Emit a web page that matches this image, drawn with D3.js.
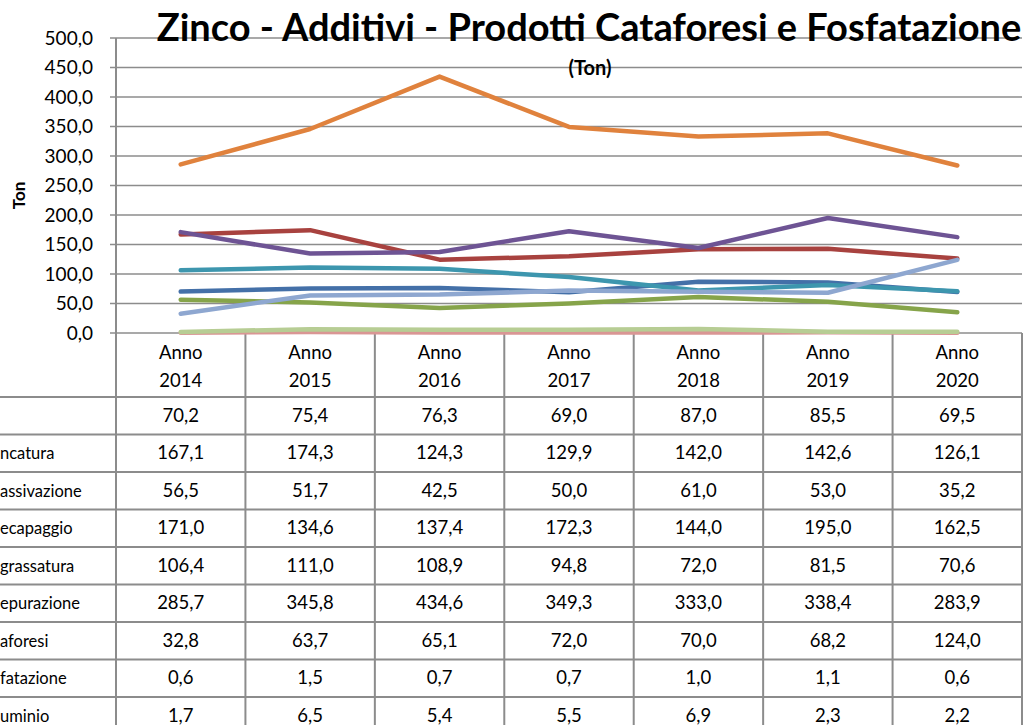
<!DOCTYPE html>
<html>
<head>
<meta charset="utf-8">
<script src="https://cdn.jsdelivr.net/npm/d3@7"></script>
<style>
  html, body { margin: 0; padding: 0; background: #fff; }
  svg { display: block; }
  text { font-family: Lato, "Open Sans", sans-serif; fill: #000; }
</style>
</head>
<body>
<svg id="chart" width="1033" height="725"></svg>
<script>
// ---- data ----
const years = ["2014", "2015", "2016", "2017", "2018", "2019", "2020"];
const categoryPrefix = "Anno";
const seriesNames = ["", "ncatura", "assivazione", "ecapaggio", "grassatura", "epurazione", "aforesi", "fatazione", "uminio"];
const seriesColors = ["#4470A8", "#A8423F", "#86A44A", "#6E5494", "#3D96AE", "#E0823D", "#8EA7D0", "#D99694", "#B7CD94"];
const s0 = [70.2, 75.4, 76.3, 69.0, 87.0, 85.5, 69.5];
const sZincatura = [167.1, 174.3, 124.3, 129.9, 142.0, 142.6, 126.1];
const sPassivazione = [56.5, 51.7, 42.5, 50.0, 61.0, 53.0, 35.2];
const sDecapaggio = [171.0, 134.6, 137.4, 172.3, 144.0, 195.0, 162.5];
const sSgrassatura = [106.4, 111.0, 108.9, 94.8, 72.0, 81.5, 70.6];
const sDepurazione = [285.7, 345.8, 434.6, 349.3, 333.0, 338.4, 283.9];
const sCataforesi = [32.8, 63.7, 65.1, 72.0, 70.0, 68.2, 124.0];
const sFosfatazione = [0.6, 1.5, 0.7, 0.7, 1.0, 1.1, 0.6];
const sAlluminio = [1.7, 6.5, 5.4, 5.5, 6.9, 2.3, 2.2];
const seriesValues = [s0, sZincatura, sPassivazione, sDecapaggio, sSgrassatura, sDepurazione, sCataforesi, sFosfatazione, sAlluminio];
const yTicks = [0, 50, 100, 150, 200, 250, 300, 350, 400, 450, 500];
const titleText = "Zinco - Additivi - Prodotti Cataforesi e Fosfatazione";
const subtitleText = "(Ton)";
const yTitle = "Ton";

// ---- layout ----
const svg = d3.select("#chart");
const L = 116, R = 1022, T = 38, B = 333;
const headerBottom = 397, rowH = 37.5;
const gridColor = "#8c8c8c";
const fmt = v => d3.format(".1f")(v).replace(".", ",");

const x = d3.scaleBand().domain(years).range([L, R]);
const y = d3.scaleLinear().domain([0, 500]).range([B, T]);

// gridlines
svg.append("g").selectAll("line").data(yTicks).join("line")
  .attr("x1", L - 6).attr("x2", R)
  .attr("y1", d => y(d)).attr("y2", d => y(d))
  .attr("stroke", gridColor).attr("stroke-width", 1.3);

// y axis
const yAxis = d3.axisLeft(y).tickValues(yTicks).tickFormat(fmt).tickSize(0).tickPadding(23);
const gy = svg.append("g").attr("transform", `translate(${L},0)`).call(yAxis);
gy.select(".domain").remove();
gy.selectAll("text").style("font-family", "Lato, sans-serif").style("font-size", "19px").attr("fill", "#000");

// y axis vertical line (extends through table)
svg.append("line").attr("x1", L).attr("x2", L).attr("y1", T).attr("y2", 725)
  .attr("stroke", gridColor).attr("stroke-width", 2);

// y title
svg.append("text").attr("transform", `translate(25,${(T + B) / 2 + 10}) rotate(-90)`)
  .attr("text-anchor", "middle").style("font-size", "17px").style("font-weight", "bold").text(yTitle);

// ---- data table ----
const tg = svg.append("g");
tg.selectAll("line.v").data(years).join("line").attr("class", "v")
  .attr("x1", d => x(d) + x.bandwidth()).attr("x2", d => x(d) + x.bandwidth())
  .attr("y1", B).attr("y2", 725).attr("stroke", gridColor).attr("stroke-width", 2);
const rowLines = d3.range(seriesValues.length + 1).map(i => headerBottom + i * rowH);
tg.selectAll("line.h").data(rowLines).join("line").attr("class", "h")
  .attr("x1", 0).attr("x2", R).attr("y1", d => d).attr("y2", d => d)
  .attr("stroke", gridColor).attr("stroke-width", 2);
const hdr = tg.selectAll("g.hdr").data(years).join("g").attr("class", "hdr");
hdr.append("text").attr("x", d => x(d) + x.bandwidth() / 2).attr("y", 359)
  .attr("text-anchor", "middle").style("font-size", "18.5px").text(categoryPrefix);
hdr.append("text").attr("x", d => x(d) + x.bandwidth() / 2).attr("y", 387)
  .attr("text-anchor", "middle").style("font-size", "18.5px").text(d => d);
seriesValues.forEach((vals, i) => {
  const cy = headerBottom + i * rowH + rowH / 2 + 6;
  tg.append("text").attr("x", 0).attr("y", cy).style("font-size", "16.5px").text(seriesNames[i]);
  tg.selectAll(null).data(vals).join("text")
    .attr("x", (d, j) => x(years[j]) + x.bandwidth() / 2).attr("y", cy)
    .attr("text-anchor", "middle").style("font-size", "18.5px").text(d => fmt(d));
});

// ---- lines ----
const line = d3.line().x((d, j) => x(years[j]) + x.bandwidth() / 2).y(d => y(d));
svg.append("g").selectAll("path").data(seriesValues).join("path")
  .attr("d", d => line(d)).attr("fill", "none")
  .attr("stroke", (d, i) => seriesColors[i]).attr("stroke-width", 4.5)
  .attr("stroke-linecap", "round").attr("stroke-linejoin", "round");

// ---- titles ----
svg.append("text").attr("x", 589).attr("y", 41).attr("text-anchor", "middle")
  .style("font-size", "38px").style("font-weight", "bold").text(titleText);
svg.append("text").attr("x", 590).attr("y", 75).attr("text-anchor", "middle")
  .style("font-size", "20px").style("font-weight", "bold").text(subtitleText);
</script>
</body>
</html>
